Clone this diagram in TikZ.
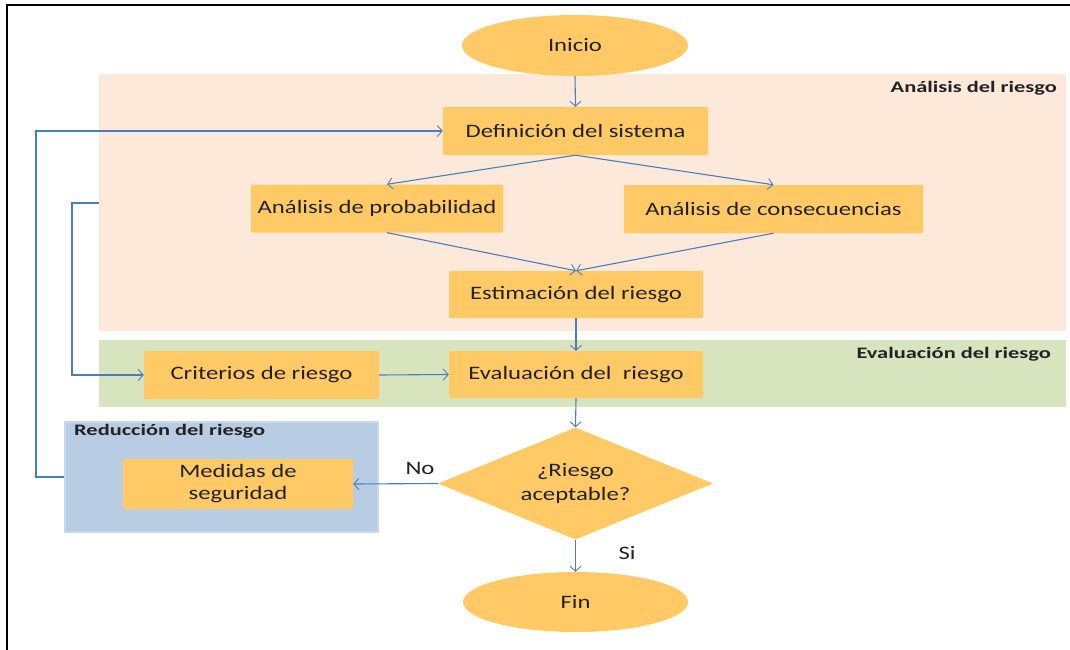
\documentclass[tikz,border=0pt]{standalone}
\usepackage{fontspec}
\usetikzlibrary{shapes.geometric,arrows.meta,calc}
\newfontfamily\boxfont{Carlito}[FakeStretch=1.3]
\newfontfamily\labfont{Carlito}[FakeStretch=1.4]
\definecolor{boxc}{HTML}{FFCA66}
\definecolor{pinkc}{HTML}{FDE9DA}
\definecolor{greenc}{HTML}{D8E4BD}
\definecolor{bluec}{HTML}{B8CCE4}
\definecolor{blueb}{HTML}{C8D8EC}
\definecolor{linec}{HTML}{4A7EBB}
\definecolor{txtc}{HTML}{222222}
\tikzset{
  stepbox/.style={fill=boxc, rounded corners=1pt, inner sep=0pt, text=txtc,
    font=\boxfont\fontsize{19}{22}\selectfont, align=center},
  oval/.style={ellipse, fill=boxc, inner sep=0pt, text=txtc,
    font=\boxfont\fontsize{19}{22}\selectfont},
  region/.style={inner sep=0pt},
  reglabel/.style={inner sep=0pt, text=txtc, font=\labfont\bfseries\fontsize{16}{19}\selectfont},
  conn/.style={draw=linec, line width=1.1pt},
  arr/.style={conn, -{Straight Barb[length=5pt,width=11pt,line width=0.9pt]}},
  ann/.style={inner sep=0pt, text=txtc, font=\boxfont\fontsize{19}{22}\selectfont}
}
\begin{document}
\begin{tikzpicture}[x=1pt,y=-1pt]
\useasboundingbox (0,0) rectangle (1070,650);
\fill[white] (0,0) rectangle (1070,650);
% frame
\draw[black, line width=2pt] (7,650) -- (7,5) -- (1070,5);
% regions
\node[region, fill=pinkc, minimum width=967pt, minimum height=257pt] (anareg) at (582.5,202.5) {};
\node[region, fill=greenc, minimum width=967pt, minimum height=67pt] (evareg) at (582.5,373.5) {};
\node[region, fill=bluec, draw=blueb, line width=2pt, minimum width=313pt, minimum height=110pt] (redreg) at (221.5,477) {};
\node[reglabel, anchor=base east] (lab1) at (1057,93) {Análisis del riesgo};
\node[reglabel, anchor=base east] (lab2) at (1051,358) {Evaluación del riesgo};
\node[reglabel, anchor=base west] (lab3) at (74,435) {Reducción del riesgo};
% nodes
\node[oval, minimum width=226pt, minimum height=61pt] (ini) at (575,45.5) {Inicio};
\node[stepbox, minimum width=265pt, minimum height=48pt] (def) at (575.5,131) {Definición del sistema};
\node[stepbox, minimum width=252pt, minimum height=48pt] (prob) at (377,208.5) {Análisis de probabilidad};
\node[stepbox, minimum width=299pt, minimum height=48pt] (cons) at (773.5,209) {Análisis de consecuencias};
\node[stepbox, minimum width=254pt, minimum height=47pt] (est) at (576,294.5) {Estimación del riesgo};
\node[stepbox, minimum width=235pt, minimum height=48pt] (crit) at (261.5,375) {Criterios de riesgo};
\node[stepbox, minimum width=254pt, minimum height=47pt] (eva) at (576,374.5) {Evaluación del~ riesgo};
\node[stepbox, minimum width=230pt, minimum height=50pt] (med) at (238,484) {Medidas de\\seguridad};
\node[diamond, fill=boxc, inner sep=0pt, aspect=2.46, minimum width=275pt, minimum height=112pt,
  text=txtc, font=\boxfont\fontsize{19}{24}\selectfont, align=center] (dia) at (575.5,483.5) {¿Riesgo\\aceptable?};
\node[oval, minimum width=225pt, minimum height=60pt] (fin) at (575.5,602) {Fin};
\node[ann] (no) at (420,468) {No};
\node[ann] (si) at (627,553) {Si};
% connectors
\draw[arr] (ini.south) -- (def.north);
\draw[arr] (def.south) -- ([xshift=10pt]prob.north);
\draw[arr] (def.south) -- (cons.north);
\draw[arr] ([xshift=10pt]prob.south) -- (est.north);
\draw[arr] (cons.south) -- (est.north);
\draw[arr] (est.south) -- (eva.north);
\draw[arr] (crit.east) -- (eva.west);
\draw[arr] (eva.south) -- (dia.north);
\draw[arr] (dia.west) -- (med.east);
\draw[arr] (dia.south) -- (fin.north);
\draw[arr] (redreg.west) -- ++(-28,0) |- (def.west);
\draw[arr] (anareg.west |- 0,203) -- (72,203) |- (crit.west);
\end{tikzpicture}
\end{document}
